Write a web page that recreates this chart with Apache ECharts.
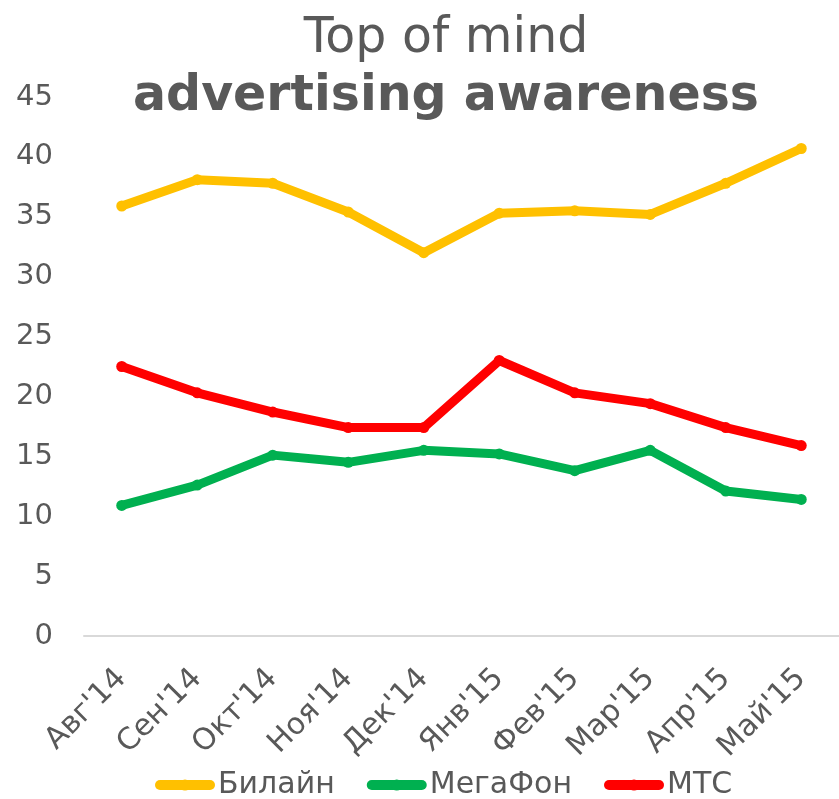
<!DOCTYPE html>
<html>
<head>
<meta charset="utf-8">
<script src="https://cdn.jsdelivr.net/npm/echarts@6/dist/echarts.min.js"></script>
<style>
  html, body { margin: 0; padding: 0; background: #fff; }
  #chart { width: 839px; height: 799px; }
</style>
</head>
<body>
<div id="chart"></div>
<script>
// Months (Aug 2014 – May 2015)
const months = ["Авг'14", "Сен'14", "Окт'14", "Ноя'14", "Дек'14", "Янв'15", "Фев'15", "Мар'15", "Апр'15", "Май'15"];

// Top-of-mind advertising awareness, %
const beeline = [35.9, 38.1, 37.8, 35.4, 32.0, 35.3, 35.5, 35.2, 37.8, 40.7];
const megafon = [10.9, 12.6, 15.1, 14.5, 15.5, 15.2, 13.8, 15.5, 12.1, 11.4];
const mts     = [22.5, 20.3, 18.7, 17.4, 17.4, 23.0, 20.3, 19.4, 17.4, 15.9];

const seriesNames = ['Билайн', 'МегаФон', 'МТС'];
const seriesColors = ['#FFC000', '#00B050', '#FF0000'];

const textColor = '#595959';
const fontFamily = 'DejaVu Sans, Verdana, sans-serif';

const chart = echarts.init(document.getElementById('chart'), null, { renderer: 'canvas' });

function lineSeries(name, data, color) {
  return {
    name: name,
    type: 'line',
    data: data,
    symbol: 'circle',
    symbolSize: 11,
    lineStyle: { color: color, width: 9, cap: 'round', join: 'round' },
    itemStyle: { color: color },
    emphasis: { disabled: true }
  };
}

chart.setOption({
  backgroundColor: '#fff',
  animation: false,
  textStyle: { fontFamily: fontFamily },
  title: {
    text: '{a|Top of mind}\n{b|advertising awareness}',
    left: 441,
    textAlign: 'center',
    top: 5,
    textStyle: {
      rich: {
        a: { fontSize: 49, fontWeight: 'normal', color: textColor, fontFamily: fontFamily, lineHeight: 58 },
        b: { fontSize: 49, fontWeight: 'bold', color: textColor, fontFamily: fontFamily, lineHeight: 58 }
      }
    }
  },
  legend: {
    bottom: -6,
    left: 150,
    itemWidth: 50,
    itemHeight: 14,
    itemGap: 32,
    data: seriesNames,
    lineStyle: { width: 10, cap: 'round' },
    formatter: '{n|{name}}',
    textStyle: {
      fontSize: 30, color: textColor, fontFamily: fontFamily,
      rich: { n: { fontSize: 30, color: textColor, fontFamily: fontFamily, padding: [0, 0, 0, 3] } }
    }
  },
  grid: {
    left: 84,
    right: -9,
    top: 97,
    bottom: 163,
    containLabel: false
  },
  xAxis: {
    type: 'category',
    data: months,
    boundaryGap: true,
    axisLine: { show: true, lineStyle: { color: '#D9D9D9', width: 2 } },
    axisTick: { show: false },
    axisLabel: {
      rotate: 45,
      interval: 0,
      margin: 38,
      fontSize: 30,
      color: textColor,
      fontFamily: fontFamily
    },
    splitLine: { show: false }
  },
  yAxis: {
    type: 'value',
    min: 0,
    max: 45,
    interval: 5,
    axisLine: { show: false },
    axisTick: { show: false },
    splitLine: { show: false },
    axisLabel: {
      fontSize: 29,
      color: textColor,
      margin: 31,
      fontFamily: fontFamily
    }
  },
  series: [
    lineSeries(seriesNames[0], beeline, seriesColors[0]),
    lineSeries(seriesNames[1], megafon, seriesColors[1]),
    lineSeries(seriesNames[2], mts, seriesColors[2])
  ]
});
</script>
</body>
</html>
